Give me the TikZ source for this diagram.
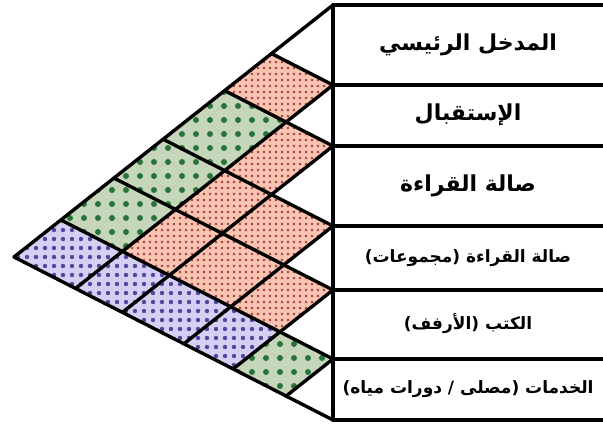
\documentclass[tikz,border=0pt]{standalone}
\usepackage{fontspec}
\newfontfamily\arabicfont[Script=Arabic]{DejaVu Sans}
\TeXXeTstate=1
\usetikzlibrary{calc,patterns.meta}
\definecolor{cellpink}{RGB}{249,196,178}
\definecolor{dotpink}{RGB}{165,62,55}
\definecolor{cellgreen}{RGB}{197,214,186}
\definecolor{dotgreen}{RGB}{40,115,58}
\definecolor{cellblue}{RGB}{213,207,243}
\definecolor{dotblue}{RGB}{78,72,158}

\tikzset{
    gridline/.style={line width=1.7pt,line cap=round},
    pinkcell/.style={fill=cellpink,postaction={pattern={Dots[radius=0.7pt,distance=3pt]},pattern color=dotpink}},
    greencell/.style={fill=cellgreen,postaction={pattern={Dots[radius=1.5pt,distance=7pt]},pattern color=dotgreen}},
    bluecell/.style={fill=cellblue,postaction={pattern={Dots[radius=1.1pt,distance=4.5pt]},pattern color=dotblue}},
    biglabel/.style={font=\arabicfont\bfseries\fontsize{11}{13}\selectfont},
    smalllabel/.style={font=\arabicfont\bfseries\fontsize{8.5}{10}\selectfont}
}

\begin{document}
\begin{tikzpicture}[x=0.5pt,y=-0.5pt]

    \useasboundingbox (0,0) rectangle (603,428);
    \fill[white] (0,0) rectangle (603,428);

    % Row boundaries and crossing points
    \foreach \a/\ya in {0/5,1/85,2/146,3/226,4/290,5/359,6/420}{
        \coordinate (r-\a) at (603,\ya);
        \coordinate (b-\a) at (333,\ya);
    }
    \foreach \a in {0,...,6}{
        \foreach \c in {\a,...,6}{
            \path (b-\a) let \p1=(b-\a), \p2=(b-\c) in
                coordinate (p-\a-\c) at ($(b-\a)+{(\y1-\y2)/207.5}*(-319,252)$);
        }
    }

    % Cells
    \foreach \i/\j/\kind in {1/2/pinkcell,1/3/greencell,1/4/greencell,1/5/greencell,1/6/bluecell,
                             2/3/pinkcell,2/4/pinkcell,2/5/pinkcell,2/6/bluecell,
                             3/4/pinkcell,3/5/pinkcell,3/6/bluecell,
                             4/5/pinkcell,4/6/bluecell,
                             5/6/greencell}{
        \pgfmathtruncatemacro{\h}{\i-1}
        \pgfmathtruncatemacro{\k}{\j-1}
        \path[\kind] (p-\h-\k) -- (p-\h-\j) -- (p-\i-\j) -- (p-\i-\k) -- cycle;
    }

    % Diagonals
    \foreach \k in {0,...,5}{
        \draw[gridline] (p-\k-\k) -- (p-\k-6);
    }
    \foreach \k in {1,...,6}{
        \draw[gridline] (p-\k-\k) -- (p-0-\k);
    }

    % Table
    \draw[gridline] (b-0) -- (b-6);
    \foreach \k in {0,...,6}{
        \draw[gridline] (b-\k) -- (r-\k);
    }

    % Labels
    \node[biglabel] at (468,45) (lbl1) {\beginR المدخل الرئيسي\endR};
    \node[biglabel] at (468,115) (lbl2) {\beginR الإستقبال\endR};
    \node[biglabel] at (468,186) (lbl3) {\beginR صالة القراءة\endR};
    \node[smalllabel] at (468,258) (lbl4) {\beginR صالة القراءة (مجموعات)\endR};
    \node[smalllabel] at (468,324) (lbl5) {\beginR الكتب (الأرفف)\endR};
    \node[smalllabel] at (468,389) (lbl6) {\beginR الخدمات (مصلى / دورات مياه)\endR};

\end{tikzpicture}
\end{document}
